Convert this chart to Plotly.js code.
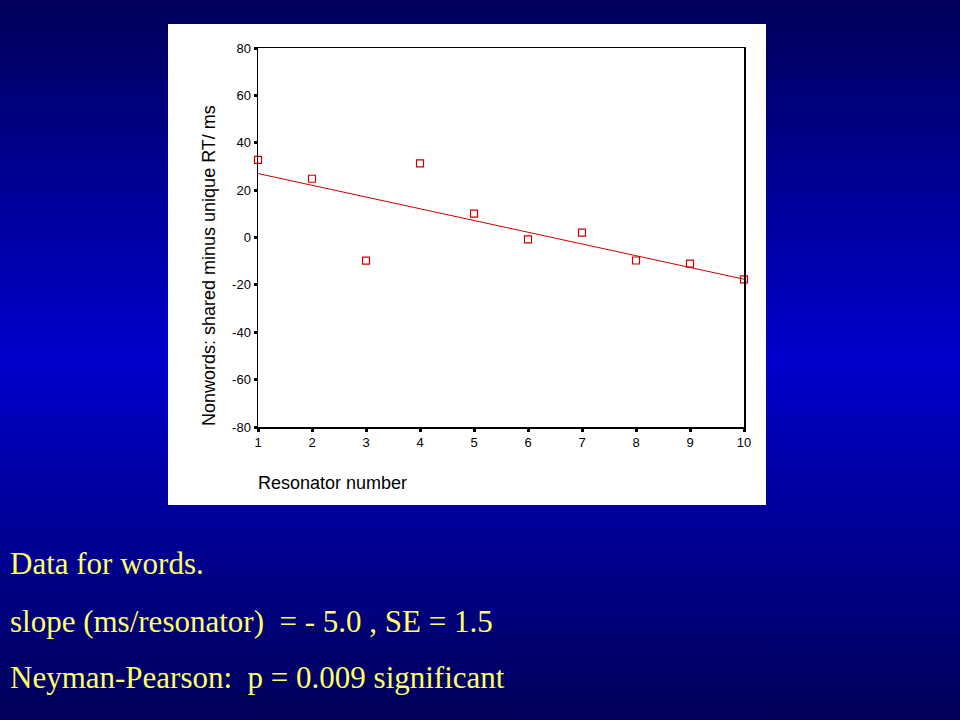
<!DOCTYPE html>
<html>
<head>
<meta charset="utf-8">
<script src="https://cdn.plot.ly/plotly-3.0.1.min.js"></script>
<style>
  html, body { margin: 0; padding: 0; }
  body { width: 960px; height: 720px; overflow: hidden;
         background: linear-gradient(to bottom, #00005a 0%, #0000a0 30%, #0000cc 50%, #00009a 72%, #000058 100%); }
  #chart { width: 960px; height: 720px; }
</style>
</head>
<body>
<div id="chart"></div>
<script>
// Data
const resonator = [1, 2, 3, 4, 5, 6, 7, 8, 9, 10];
const rtDiff = [32.8, 24.8, -9.8, 31.3, 10.1, -0.8, 2.1, -9.7, -11.0, -17.7];
const fitX = [1, 10];
const fitY = [27.0, -17.6];
const xTicks = [1, 2, 3, 4, 5, 6, 7, 8, 9, 10];
const yTicks = [-80, -60, -40, -20, 0, 20, 40, 60, 80];
const xTitle = 'Resonator number';
const yTitle = 'Nonwords: shared minus unique RT/ ms';
const notes = [
  'Data for words.',
  'slope (ms/resonator)\u00a0 = - 5.0 , SE = 1.5',
  'Neyman-Pearson:\u00a0 p = 0.009 significant'
];

const W = 960, H = 720;
const L = 258, R = 744, T = 48, B = 427;
const pw = R - L, ph = B - T;
const px = x => (x - L) / pw;
const py = y => (B - y) / ph;

const red = '#cc0000';
const traces = [
  { x: fitX, y: fitY, type: 'scatter', mode: 'lines',
    line: { color: red, width: 1 }, hoverinfo: 'skip', cliponaxis: false },
  { x: resonator, y: rtDiff, type: 'scatter', mode: 'markers',
    marker: { symbol: 'square-open', size: 7, color: red, line: { color: red, width: 1.2 } },
    cliponaxis: false }
];

const sans = 'Arial, "Liberation Sans", sans-serif';
const axisFont = { family: sans, size: 13, color: '#000' };
const noteYs = [563, 621, 677];

const annotations = [
  { text: yTitle, xref: 'paper', yref: 'paper', x: px(209), y: py(266),
    xanchor: 'center', yanchor: 'middle', textangle: -90, showarrow: false,
    font: { family: sans, size: 18, color: '#000' } },
  { text: xTitle, xref: 'paper', yref: 'paper', x: px(256), y: py(483),
    xanchor: 'left', yanchor: 'middle', showarrow: false,
    font: { family: sans, size: 18, color: '#000' } }
].concat(notes.map((t, i) => ({
  text: t, xref: 'paper', yref: 'paper', x: px(8), y: py(noteYs[i]),
  xanchor: 'left', yanchor: 'middle', showarrow: false,
  font: { family: '"Times New Roman", "Liberation Serif", serif', size: 31, color: '#ffff66' }
})));

const layout = {
  width: W, height: H,
  margin: { l: L, r: W - R, t: T, b: H - B, pad: 0 },
  paper_bgcolor: 'rgba(0,0,0,0)',
  plot_bgcolor: '#ffffff',
  showlegend: false,
  xaxis: {
    range: [1, 10], tickvals: xTicks, ticktext: xTicks.map(String),
    showgrid: false, zeroline: false,
    showline: true, linecolor: '#000', linewidth: 1.5, mirror: true,
    ticks: 'outside', ticklen: 3, tickwidth: 3, tickcolor: '#000',
    tickfont: axisFont, fixedrange: true
  },
  yaxis: {
    range: [-80, 80], tickvals: yTicks, ticktext: yTicks.map(String),
    showgrid: false, zeroline: false,
    showline: true, linecolor: '#000', linewidth: 1.5, mirror: true,
    ticks: 'outside', ticklen: 3, tickwidth: 3, tickcolor: '#000',
    tickfont: axisFont, fixedrange: true
  },
  shapes: [
    { type: 'rect', xref: 'paper', yref: 'paper', layer: 'below',
      x0: px(168), x1: px(766), y0: py(505), y1: py(24),
      fillcolor: '#ffffff', line: { width: 0 } }
  ],
  annotations: annotations
};

Plotly.newPlot('chart', traces, layout, { displayModeBar: false, staticPlot: true });
</script>
</body>
</html>
